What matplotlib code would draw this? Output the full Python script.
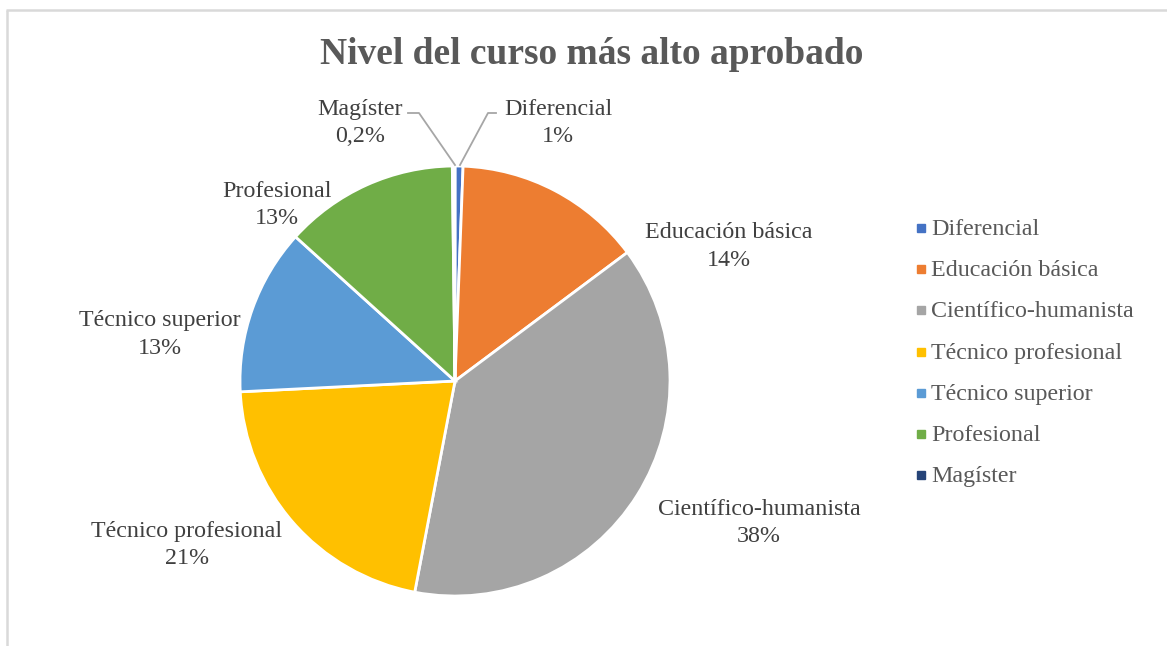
import matplotlib
matplotlib.use("Agg")
import matplotlib.pyplot as plt

categories = ["Diferencial", "Educación básica", "Científico-humanista",
              "Técnico profesional", "Técnico superior", "Profesional", "Magíster"]
values = [0.6, 14.2, 38.2, 21.2, 12.5, 13.1, 0.2]
pct_labels = ["1%", "14%", "38%", "21%", "13%", "13%", "0,2%"]
colors = ["#4472C4", "#ED7D31", "#A5A5A5", "#FFC000", "#5B9BD5", "#70AD47", "#264478"]

W, H = 1167, 646
plt.rcParams['font.family'] = ['Liberation Serif', 'DejaVu Serif']

fig = plt.figure(figsize=(W / 100, H / 100), dpi=100)
ax = fig.add_axes([0, 0, 1, 1])

cx, cy, R = 455, 381, 215
wedges, _ = ax.pie(values, colors=colors, startangle=-90, counterclock=True,
                   center=(cx, cy), radius=R, frame=True,
                   wedgeprops=dict(edgecolor="white", linewidth=2))
ax.set_xlim(0, W)
ax.set_ylim(H, 0)
ax.set_aspect('equal')
ax.axis('off')

# frame (top and left edges visible)
ax.plot([6, W], [10, 10], color="#D9D9D9", lw=1.8, solid_capstyle='butt')
ax.plot([7, 7], [10, H], color="#D9D9D9", lw=1.8, solid_capstyle='butt')

title_col = "#595959"
lab_col = "#404040"
ax.text(592, 64, "Nivel del curso más alto aprobado", ha="center", va="baseline",
        fontsize=27, fontweight="bold", color=title_col)

# (x centre, baseline of first line) for each data label
label_pos = [(558, 115), (729, 238), (759, 515), (187, 537),
             (160, 326), (277, 197), (360, 115)]
line_gap = 27.5
for cat, pct, (lx, ly) in zip(categories, pct_labels, label_pos):
    ax.text(lx, ly, cat, ha="center", va="baseline", fontsize=17.3, color=lab_col)
    ax.text(lx, ly + line_gap, pct, ha="center", va="baseline", fontsize=17.3,
            color=lab_col)

# leader lines for the two tiny slices
ax.plot([496, 488, 460], [113, 113, 165], color="#A6A6A6", lw=1.3)
ax.plot([408, 419, 455], [113, 113, 165], color="#A6A6A6", lw=1.3)

# legend
for i, (cat, col) in enumerate(zip(categories, colors)):
    y = 228 + i * 41.2
    ax.plot([921], [y], marker='s', markersize=5.5, color=col, linestyle='none')
    ax.text(931, y + 7, cat, ha="left", va="baseline", fontsize=17.3, color=title_col)

fig.savefig("out.png", dpi=100, facecolor="white")
